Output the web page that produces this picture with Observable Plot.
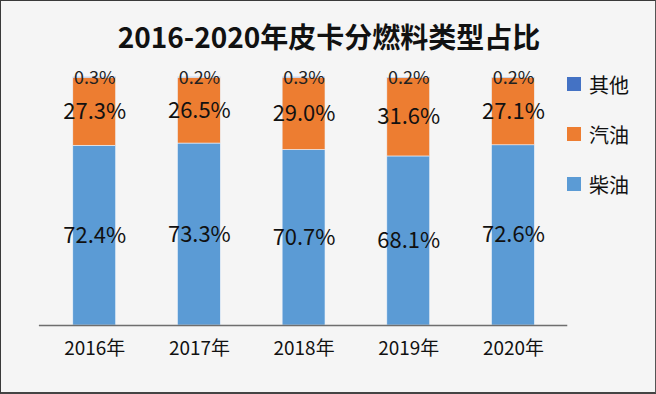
<!DOCTYPE html>
<html><head><meta charset="utf-8">
<script src="https://cdn.jsdelivr.net/npm/d3@7"></script>
<script src="https://cdn.jsdelivr.net/npm/@observablehq/plot@0.6"></script>
<style>
html,body{margin:0;padding:0;background:#fff;}
#wrap{position:relative;width:656px;height:394px;box-sizing:border-box;border:1px solid #3a3a3a;border-right-color:#555;border-bottom:2px solid #444;background:#f5f5f5;font-family:"Noto Sans CJK SC","Noto Sans",sans-serif;overflow:hidden;}
#title{position:absolute;top:15px;left:0;width:656px;text-align:center;font-weight:bold;font-size:28px;line-height:40px;color:#111;}
#chart{position:absolute;top:0;left:0;}
#legend{position:absolute;left:566px;top:58px;font-size:20px;color:#111;}
.item{display:flex;align-items:center;height:50px;}
.sw{width:14px;height:14px;margin-right:8px;}
</style></head>
<body><div id="wrap"><div id="title">2016-2020年皮卡分燃料类型占比</div><div id="chart"></div><div id="legend"></div></div>
<script>
const years = ["2016年","2017年","2018年","2019年","2020年"];
const fuels = ["柴油","汽油","其他"];
const diesel = [72.4,73.3,70.7,68.1,72.6];
const gasoline = [27.3,26.5,29.0,31.6,27.1];
const other = [0.3,0.2,0.3,0.2,0.2];
const colors = ["#5b9bd5","#ed7d31","#4472c4"];
const legendOrder = ["其他","汽油","柴油"];

const series = [diesel, gasoline, other];
const rows = [];
years.forEach((y,i)=>fuels.forEach((f,j)=>rows.push({year:y,fuel:f,value:series[j][i]})));

const stackOpts = {x:"year", y:"value", z:"fuel", order: fuels};
const plot = Plot.plot({
  width:656, height:394,
  marginTop:76, marginBottom:69, marginLeft:38, marginRight:88,
  style:{background:"transparent", fontFamily:"'Noto Sans CJK SC','Noto Sans',sans-serif"},
  x:{domain:years, paddingInner:0.595, paddingOuter:0.3, label:null},
  y:{domain:[0,100], axis:null},
  color:{domain:fuels, range:colors},
  marks:[
    Plot.barY(rows, Plot.stackY({...stackOpts, fill:"fuel", stroke:"#eef4fb", strokeWidth:0.6})),
    Plot.ruleY([0], {stroke:"#6e6e6e", strokeWidth:1.5}),
    Plot.text(rows.filter(d=>d.fuel!=="其他"), Plot.stackY({...stackOpts, text:d=>d.value.toFixed(1)+"%", fontSize:22, fill:"#111"})),
    Plot.text(rows.filter(d=>d.fuel==="其他"), {x:"year", y:()=>100, text:d=>d.value.toFixed(1)+"%", fontSize:18, fill:"#222", dy:1}),
    Plot.axisX({tickSize:0, tickPadding:16, fontSize:19, fill:"#111", label:null})
  ]
});
document.getElementById("chart").append(plot);
const lg = document.getElementById("legend");
legendOrder.forEach(f=>{
  const it=document.createElement("div");it.className="item";
  const sw=document.createElement("div");sw.className="sw";sw.style.background=colors[fuels.indexOf(f)];
  const t=document.createElement("span");t.textContent=f;
  it.append(sw,t);lg.append(it);
});
</script></body></html>
